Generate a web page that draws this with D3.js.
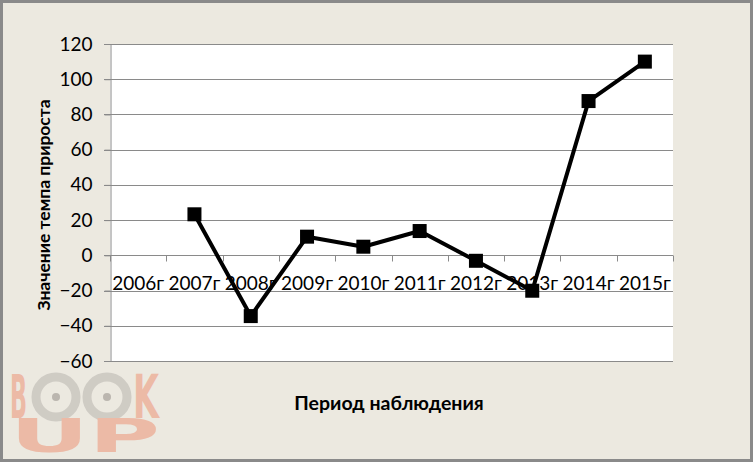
<!DOCTYPE html>
<html>
<head>
<meta charset="utf-8">
<script src="https://cdn.jsdelivr.net/npm/d3@7"></script>
<style>
html,body{margin:0;padding:0;background:#fff;}
svg{display:block;}
</style>
</head>
<body>
<svg id="chart" width="753" height="462"></svg>
<script>
const categories = ["2006г","2007г","2008г","2009г","2010г","2011г","2012г","2013г","2014г","2015г"];
const values = [null, 23.3, -34.5, 10.6, 4.9, 13.8, -3.1, -20.1, 87.6, 110.0];
const yTicks = [-60,-40,-20,0,20,40,60,80,100,120];
const yTitle = "Значение темпа прироста";
const xTitle = "Период наблюдения";

const W = 753, H = 462;
const plot = {left:110, right:673, top:44, bottom:361};
const svg = d3.select("#chart");
const font = "Lato, 'Liberation Sans', sans-serif";

// background + border
svg.append("rect").attr("x",1.5).attr("y",1.5).attr("width",W-3).attr("height",H-3)
  .attr("fill","#ECE9E0").attr("stroke","#8a8a8a").attr("stroke-width",3);

// plot area
svg.append("rect").attr("x",plot.left).attr("y",plot.top)
  .attr("width",plot.right-plot.left).attr("height",plot.bottom-plot.top).attr("fill","#ffffff");

const x = d3.scaleBand().domain(categories).range([plot.left, plot.right]).padding(0);
const y = d3.scaleLinear().domain([-60,120]).range([plot.bottom, plot.top]);

// gridlines
svg.append("g").selectAll("line").data(yTicks).join("line")
  .attr("x1",plot.left-6).attr("x2",plot.right)
  .attr("y1",d=>Math.round(y(d))+0.5).attr("y2",d=>Math.round(y(d))+0.5)
  .attr("stroke","#8a8a8a").attr("stroke-width",1);

// y axis
const yAxis = d3.axisLeft(y).tickValues(yTicks).tickSize(6).tickPadding(12);
const gy = svg.append("g").attr("transform",`translate(${plot.left+0.5},0)`).call(yAxis);
gy.select(".domain").attr("stroke","#8a8a8a");
gy.selectAll(".tick line").attr("stroke","#8a8a8a");
gy.selectAll(".tick text").attr("font-family",font).attr("font-size",19).attr("fill","#000");

// x axis at zero
const boundaries = categories.map(c=>x(c)).concat([plot.right]);
const zy = Math.round(y(0))+0.5;
svg.append("g").selectAll("line").data(boundaries).join("line")
  .attr("x1",d=>Math.round(d)+0.5).attr("x2",d=>Math.round(d)+0.5)
  .attr("y1",zy).attr("y2",zy+6).attr("stroke","#8a8a8a");
svg.append("g").selectAll("text").data(categories).join("text")
  .attr("x",d=>x(d)+x.bandwidth()/2).attr("y",290)
  .attr("text-anchor","middle").attr("font-family",font).attr("font-size",19).attr("fill","#000")
  .text(d=>d);

// line
const pts = categories.map((c,i)=>({c, v:values[i]})).filter(d=>d.v!==null);
const line = d3.line().x(d=>x(d.c)+x.bandwidth()/2).y(d=>y(d.v));
svg.append("path").datum(pts).attr("d",line).attr("fill","none")
  .attr("stroke","#000").attr("stroke-width",4).attr("stroke-linejoin","round");
const ms = 14;
svg.append("g").selectAll("rect").data(pts).join("rect")
  .attr("x",d=>x(d.c)+x.bandwidth()/2-ms/2).attr("y",d=>y(d.v)-ms/2)
  .attr("width",ms).attr("height",ms).attr("fill","#000");

// axis titles
svg.append("text").attr("transform","translate(50,205) rotate(-90)")
  .attr("text-anchor","middle").attr("font-family",font).attr("font-weight","bold")
  .attr("font-size",17.5).attr("fill","#000").text(yTitle);
svg.append("text").attr("x",389).attr("y",410)
  .attr("text-anchor","middle").attr("font-family",font).attr("font-weight","bold")
  .attr("font-size",19.5).attr("fill","#000").text(xTitle);

// watermark (one text element with positioned tspans)
const wm = svg.append("g").attr("opacity",0.85);
const wf = "'DejaVu Sans', sans-serif";
[56,107].forEach(cx=>{
  wm.append("circle").attr("cx",cx).attr("cy",397).attr("r",20).attr("fill","none")
    .attr("stroke","#CBC7C0").attr("stroke-width",9);
  wm.append("circle").attr("cx",cx).attr("cy",397).attr("r",4).attr("fill","#B3AEA7");
});
const wt = wm.append("text").attr("font-family",wf).attr("font-weight","bold").attr("fill","#EDB29C");
wt.append("tspan").attr("x",10).attr("y",418).attr("font-size",60)
  .attr("textLength",17).attr("lengthAdjust","spacingAndGlyphs").text("B");
wt.append("tspan").attr("x",133).attr("y",418).attr("font-size",60)
  .attr("textLength",26).attr("lengthAdjust","spacingAndGlyphs").text("K");
wt.append("tspan").attr("x",10).attr("y",452).attr("font-size",46)
  .attr("textLength",150).attr("lengthAdjust","spacingAndGlyphs").text("UP");
</script>
</body>
</html>
